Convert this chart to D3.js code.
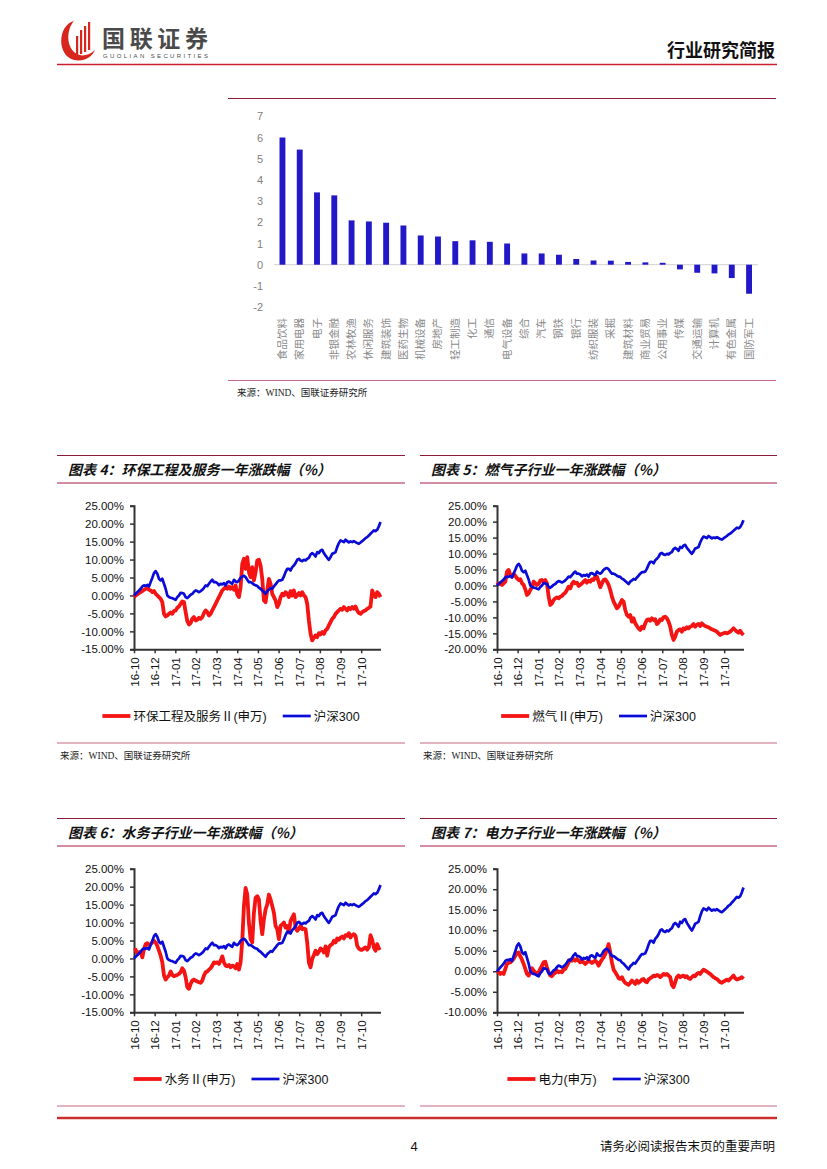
<!DOCTYPE html>
<html><head><meta charset="utf-8">
<script src="https://cdn.jsdelivr.net/npm/d3@7"></script>
<style>
body{margin:0;background:#fff;}
svg{display:block;}
</style></head><body>
<svg id="page" width="827" height="1169"></svg>
<script>
// ---------- DATA ----------
const industries = ["食品饮料","家用电器","电子","非银金融","农林牧渔","休闲服务","建筑装饰","医药生物","机械设备","房地产","轻工制造","化工","通信","电气设备","综合","汽车","钢铁","银行","纺织服装","采掘","建筑材料","商业贸易","公用事业","传媒","交通运输","计算机","有色金属","国防军工"];
const industryValues = [6.0,5.43,3.41,3.27,2.09,2.04,1.98,1.85,1.38,1.33,1.11,1.15,1.08,1.0,0.53,0.53,0.47,0.27,0.2,0.19,0.13,0.11,0.09,-0.22,-0.38,-0.41,-0.63,-1.37];
const barTicks = [-2,-1,0,1,2,3,4,5,6,7];

const dateLabels = ["16-10","16-12","17-01","17-02","17-03","17-04","17-05","17-06","17-07","17-08","17-09","17-10"];

const hs300 = [0,0.46,0.93,1.39,1.86,2.51,2.79,2.69,2.97,2.51,
3.71,4.92,6.22,6.78,6.04,4.64,4.18,4.64,3.25,1.86,
0,-0.46,-0.65,-0.74,-1.02,-1.21,-0.46,0,0.74,0.65,
0.46,-0.46,-0.74,-0.28,0.19,0.46,1.02,1.39,1.21,0.93,
1.21,1.58,2.14,2.79,2.6,3.25,3.9,4.36,3.71,3.71,
3.44,2.88,3.25,3.06,3.44,2.79,3.71,3.9,3.53,3.25,
4.36,3.9,3.71,4.18,4.92,5.29,5.48,5.11,4.36,3.71,
3.71,3.44,3.06,2.79,2.69,2.14,1.86,1.39,0.93,0.46,
1.21,1.58,2.04,1.86,2.51,3.06,3.71,4.18,4.18,4.36,
5.29,6.5,7.43,7.43,6.96,7.89,8.36,9.01,9.94,10.21,
9.75,9.56,9.94,9.75,10.21,10.49,11.42,11.79,11.42,10.86,
12.07,11.79,12.53,12.72,11.79,11.14,10.49,9.94,10.68,11.61,
11.79,12.07,13.46,14.58,15.32,15.13,14.86,15.51,15.13,14.76,
15.04,14.86,15.13,14.86,14.58,14.39,14.76,15.13,15.51,15.97,
16.25,16.71,17.18,17.64,18.11,17.92,18.29,19.22,20.43];

const envEng = [-0.46,0,0.28,0.65,0.93,1.21,1.58,1.86,2.14,1.58,
1.39,0.93,1.21,0.46,0,-0.46,-0.93,-1.86,-5.11,-5.85,
-5.57,-5.11,-4.74,-5.11,-4.36,-4.18,-3.44,-3.06,-2.32,-1.67,
-1.86,-4.64,-7.15,-8.08,-7.71,-6.5,-6.04,-6.96,-6.78,-6.22,
-6.5,-6.04,-4.92,-4.18,-4.64,-5.57,-5.11,-4.18,-3.25,-2.32,
-1.39,-0.46,0.46,1.39,1.86,2.32,1.86,2.51,1.86,2.32,
1.58,2.79,0.28,-0.46,2.32,8.82,10.21,7.43,10.68,6.5,
5.11,7.89,4.18,6.5,9.75,9.94,8.36,4.64,-1.39,-1.86,
1.39,4.64,3.25,0.46,-0.46,-1.39,-3.25,-2.32,-0.46,0.46,
0,0.93,0.46,-0.46,1.21,0,1.39,-0.46,0,0.65,
0,0.93,0,-0.46,-2.32,-6.96,-10.68,-12.53,-11.79,-11.14,
-11.61,-10.49,-10.86,-10.21,-10.68,-9.75,-9.29,-8.36,-7.43,-6.5,
-6.04,-5.11,-4.64,-4.18,-3.71,-3.99,-3.25,-3.71,-4.18,-3.44,
-3.81,-3.25,-3.71,-3.06,-4.18,-4.92,-5.11,-4.64,-4.36,-4.18,
-3.71,-3.44,-3.06,1.39,0,-0.46,0.93,0.46,-0.46];

const gas = [0.16,0.68,0.47,0.16,0.68,1.2,4.34,4.86,3.29,2.77,
3.61,2.98,2.25,1.72,1.93,0.68,0.16,-1.2,-2.98,-2.46,
-1.41,-0.57,1.2,0.68,0.16,0.47,1.52,1.72,1.2,1.72,
0.68,-3.5,-6.11,-5.59,-4.55,-4.02,-3.71,-4.02,-3.5,-3.29,
-2.66,-2.25,-1.41,-0.37,-0.89,0.47,1.2,0.68,0.89,-0.16,
0.16,0.68,1.2,1.72,0.89,1.52,1.2,1.93,1.72,2.77,
2.77,1.2,-0.57,0.68,1.72,1.93,1.2,0.16,-1.41,-3.5,
-5.07,-6.11,-7.16,-6.64,-5.59,-4.55,-5.07,-7.68,-9.25,-9.77,
-9.25,-11.34,-10.29,-11.86,-12.7,-13.43,-13.95,-12.91,-13.43,-11.86,
-10.82,-10.61,-11.02,-10.29,-10.82,-10.61,-12.07,-11.65,-10.61,-10.82,
-9.98,-9.77,-10.29,-11.34,-12.91,-15.52,-17.08,-16.04,-14.47,-13.95,
-13.74,-14.47,-13.43,-13.74,-13.11,-13.43,-12.91,-12.7,-12.07,-12.91,
-12.38,-12.07,-12.7,-11.86,-12.38,-12.7,-12.91,-13.11,-13.43,-13.74,
-13.95,-14.16,-14.47,-15.0,-15.52,-15.2,-15.0,-14.79,-15.0,-14.79,
-14.47,-13.95,-13.43,-13.95,-14.47,-14.79,-14.16,-15.0,-15.52];

const water = [2.15,2.42,1.23,1.69,1.87,0.3,2.61,3.99,4.27,3.71,
3.99,4.45,4.91,4.45,3.53,2.15,0.76,-1.08,-4.77,-5.87,
-5.23,-4.77,-3.66,-4.58,-4.95,-4.77,-4.58,-4.3,-3.84,-2.74,
-3.38,-5.23,-7.99,-8.45,-7.07,-6.15,-5.87,-6.15,-6.42,-6.61,
-6.79,-6.15,-4.77,-3.84,-3.66,-3.11,-2.74,-2.0,-1.08,-1.26,
-1.08,-1.54,-0.62,0.58,-1.08,-2.0,-2.18,-1.82,-2.46,-2.0,
-2.18,-2.74,-1.54,-3.11,-1.08,4.91,14.59,19.66,17.81,9.98,
5.37,4.45,12.75,16.89,17.35,16.43,10.44,6.76,10.9,13.67,
15.05,17.81,16.43,14.59,12.75,9.06,8.14,5.37,9.06,9.52,
9.98,8.6,9.06,7.22,10.44,11.36,12.29,8.6,7.68,8.32,
9.06,8.14,8.32,8.14,4.45,-1.08,-2.46,-0.16,0.95,2.15,
1.23,1.87,2.79,2.42,1.69,3.35,0.76,3.07,3.71,3.99,
4.91,4.45,5.56,5.19,5.83,6.11,5.56,6.48,6.29,7.03,
5.83,6.48,6.75,6.29,3.53,2.79,2.42,2.42,2.79,3.07,
2.42,3.07,6.48,5.19,3.07,2.15,3.99,2.79,3.07];

const power = [-0.08,-0.24,-0.65,-0.4,-0.65,0.56,1.78,2.02,2.18,2.58,
2.99,3.79,4.44,4.6,3.63,2.82,1.78,0.56,-0.65,-1.05,
-0.24,0.73,0.16,-0.24,-0.65,-0.24,0.56,1.37,2.18,2.34,
0.97,-0.24,-1.05,-1.21,-0.65,-0.4,0.16,-0.24,-0.08,-0.24,
0.4,0.56,1.37,2.18,2.82,2.58,2.99,2.58,2.99,2.58,
2.18,2.58,2.18,1.78,2.18,2.58,2.34,2.02,2.34,2.58,
2.18,1.37,2.18,2.82,3.39,4.2,5.25,6.62,4.6,2.18,
0.4,-0.24,-0.89,-1.69,-1.86,-1.45,-2.26,-2.82,-3.07,-3.31,
-2.82,-2.26,-2.66,-3.07,-2.26,-2.82,-2.5,-2.02,-1.86,-2.5,
-2.66,-2.02,-1.69,-1.45,-1.05,-1.21,-0.89,-1.05,-1.45,-1.05,
-0.65,-0.89,-0.65,-1.05,-1.45,-3.31,-3.87,-2.66,-1.45,-1.05,
-1.45,-1.21,-1.05,-1.45,-1.21,-1.69,-1.86,-1.45,-1.05,-1.21,
-0.65,-0.4,-0.65,-0.08,0.4,0.16,-0.08,-0.4,-0.65,-1.05,
-1.45,-1.69,-1.86,-2.26,-2.66,-2.82,-2.5,-2.26,-2.02,-2.26,
-1.86,-1.45,-1.05,-1.69,-2.02,-1.86,-1.69,-1.45,-1.86];

const yTicks4 = [25,20,15,10,5,0,-5,-10,-15];
const yTicks5 = [25,20,15,10,5,0,-5,-10,-15,-20];
const yTicks6 = [25,20,15,10,5,0,-5,-10,-15];
const yTicks7 = [25,20,15,10,5,0,-5,-10];

const titles = ["图表 4：环保工程及服务一年涨跌幅（%）","图表 5：燃气子行业一年涨跌幅（%）","图表 6：水务子行业一年涨跌幅（%）","图表 7：电力子行业一年涨跌幅（%）"];
const seriesNames = ["环保工程及服务Ⅱ(申万)","燃气Ⅱ(申万)","水务Ⅱ(申万)","电力(申万)"];
const benchName = "沪深300";
const sourceText = "来源：WIND、国联证券研究所";

// ---------- DRAW ----------
const svg = d3.select("#page");
const CJK = "'Noto Sans CJK SC', sans-serif";
const SANS = "'Liberation Sans', 'Noto Sans CJK SC', sans-serif";
const SERIF = "'Liberation Serif', 'Noto Sans CJK SC', serif";
const darkLine = "#8e1b36", pinkLine = "#c46a82";

// Header
const hdr = svg.append("g");
hdr.append("path").attr("d","M74,21 C58,25 56,55 74,60 C84,62 92,57 95,50 C90,55 82,57 77,54 C66,48 66,30 74,21 Z").attr("fill","#d7261e");
[[76,36,2.2,20],[80,30,2.2,24],[84,26,2.2,26],[88,22,2.2,28]].forEach(b=>{
  hdr.append("rect").attr("x",b[0]).attr("y",b[1]).attr("width",b[2]).attr("height",b[3]).attr("fill","#d7261e");
});
hdr.append("text").attr("x",102).attr("y",47).attr("font-family",CJK).attr("font-weight",700)
  .attr("font-size",23).attr("fill","#4a4a4a").attr("textLength",106).text("国联证券");
hdr.append("text").attr("x",103).attr("y",58).attr("font-family","'Liberation Sans',sans-serif")
  .attr("font-size",6).attr("fill","#4a4a4a").attr("textLength",105).text("GUOLIAN SECURITIES");
hdr.append("text").attr("x",775).attr("y",57).attr("text-anchor","end").attr("font-family",CJK)
  .attr("font-weight",700).attr("font-size",18).attr("fill","#111").text("行业研究简报");
hdr.append("line").attr("x1",57).attr("x2",777).attr("y1",64.5).attr("y2",64.5).attr("stroke","#c8202a").attr("stroke-width",1.5);

// ---------- Bar chart ----------
const bar = svg.append("g");
bar.append("line").attr("x1",228).attr("x2",776).attr("y1",98.5).attr("y2",98.5).attr("stroke",darkLine).attr("stroke-width",1.2);
const bx = d3.scaleBand().domain(industries).range([273.8,757.7]).paddingInner(0.66).paddingOuter(0.33);
const by = d3.scaleLinear().domain([-2,7]).range([307.1,116.3]);
bar.append("g").attr("transform","translate(263,0)")
  .call(d3.axisLeft(by).tickValues(barTicks).tickSize(0).tickPadding(0).tickFormat(d3.format("d")))
  .call(g=>g.select(".domain").remove())
  .call(g=>g.selectAll("text").attr("font-family",SANS).attr("font-size",11).attr("fill","#808080")
     .text(d=>d<0?"-"+Math.abs(d):d));
bar.append("line").attr("x1",273.8).attr("x2",757.7).attr("y1",by(0)).attr("y2",by(0)).attr("stroke","#d9d9d9").attr("stroke-width",1.2);
bar.selectAll("rect.b").data(industries).join("rect").attr("class","b")
  .attr("x",d=>bx(d)).attr("width",bx.bandwidth())
  .attr("y",(d,i)=>by(Math.max(0,industryValues[i])))
  .attr("height",(d,i)=>Math.abs(by(industryValues[i])-by(0)))
  .attr("fill","#2318c8");
bar.selectAll("text.cat").data(industries).join("text").attr("class","cat")
  .attr("transform",d=>`translate(${bx(d)+bx.bandwidth()/2+3.5},318) rotate(-90)`)
  .attr("text-anchor","end").attr("font-family",CJK).attr("font-size",10.5).attr("fill","#8a8a8a")
  .text(d=>d);
bar.append("line").attr("x1",228).attr("x2",776).attr("y1",380.5).attr("y2",380.5).attr("stroke",pinkLine).attr("stroke-width",1.2);
bar.append("text").attr("x",237).attr("y",396).attr("font-family",SERIF).attr("font-size",9.5).attr("fill","#222").text(sourceText);

// ---------- Line panels ----------
const panels = [
  {ox:57, oy:455, w:348, title:titles[0], name:seriesNames[0], data:envEng, ticks:yTicks4, source:true},
  {ox:420,oy:455, w:357, title:titles[1], name:seriesNames[1], data:gas,    ticks:yTicks5, source:true},
  {ox:57, oy:818, w:348, title:titles[2], name:seriesNames[2], data:water,  ticks:yTicks6, source:false},
  {ox:420,oy:818, w:357, title:titles[3], name:seriesNames[3], data:power,  ticks:yTicks7, source:false},
];
const tickEvery = 12.4; // sample points between date labels

panels.forEach(p=>{
  const g = svg.append("g");
  g.append("line").attr("x1",p.ox).attr("x2",p.ox+p.w).attr("y1",p.oy+0.5).attr("y2",p.oy+0.5).attr("stroke",darkLine).attr("stroke-width",1);
  g.append("text").attr("x",p.ox+11).attr("y",p.oy+20).attr("font-family",CJK).attr("font-weight",700)
    .attr("font-style","italic").attr("font-size",14).attr("fill","#111").text(p.title);
  g.append("line").attr("x1",p.ox).attr("x2",p.ox+p.w).attr("y1",p.oy+28).attr("y2",p.oy+28).attr("stroke",pinkLine).attr("stroke-width",1.5);

  const left = p.ox+77, right = p.ox+323.5, top = p.oy+50.7, bottom = p.oy+194.3;
  const n = p.data.length;
  const x = d3.scaleLinear().domain([0,n-1]).range([left,right]);
  const y = d3.scaleLinear().domain([d3.min(p.ticks), d3.max(p.ticks)]).range([bottom, top]);
  const fmt = d=> (d<0?"-":"")+Math.abs(d).toFixed(2)+"%";

  const ya = g.append("g").attr("transform",`translate(${left},0)`)
    .call(d3.axisLeft(y).tickValues(p.ticks).tickSize(4).tickPadding(6).tickFormat(fmt));
  ya.selectAll("text").attr("font-family",SANS).attr("font-size",11.5).attr("fill","#111");
  ya.selectAll("line").attr("stroke","#333").attr("stroke-width",1.5);
  ya.select(".domain").attr("stroke","#333").attr("stroke-width",2);

  const tickIdx = dateLabels.map((d,i)=>i*tickEvery);
  const xa = g.append("g").attr("transform",`translate(0,${bottom})`)
    .call(d3.axisBottom(x).tickValues(tickIdx).tickSize(4).tickSizeOuter(0).tickFormat((d,i)=>dateLabels[i]));
  xa.selectAll("line").attr("stroke","#333").attr("stroke-width",1.5);
  xa.select(".domain").attr("stroke","#333").attr("stroke-width",2);
  xa.selectAll("text").attr("font-family",SANS).attr("font-size",11.5).attr("fill","#111")
    .attr("text-anchor","end").attr("dy","0.35em").attr("transform","translate(0,8) rotate(-90)").attr("y",0).attr("x",0);

  const line = d3.line().x((d,i)=>x(i)).y(d=>y(d));
  g.append("path").datum(p.data).attr("d",line).attr("fill","none").attr("stroke","#f41414")
    .attr("stroke-width",3.8).attr("stroke-linejoin","round");
  g.append("path").datum(hs300).attr("d",line).attr("fill","none").attr("stroke","#0b0bd8")
    .attr("stroke-width",2.7).attr("stroke-linejoin","round");

  // legend
  const lg = g.append("g");
  const ly = p.oy+261;
  const t1 = lg.append("text").attr("font-family",SANS).attr("font-size",12.5).attr("fill","#111").attr("y",ly+4.5).text(p.name);
  const t2 = lg.append("text").attr("font-family",SANS).attr("font-size",12.5).attr("fill","#111").attr("y",ly+4.5).text(benchName);
  const w1 = t1.node().getComputedTextLength(), w2 = t2.node().getComputedTextLength();
  const sw = 28, gap = 3, sep = 16;
  const total = sw+gap+w1+sep+sw+gap+w2;
  let sx = p.ox + p.w/2 - total/2;
  lg.append("line").attr("x1",sx).attr("x2",sx+sw).attr("y1",ly).attr("y2",ly).attr("stroke","#f41414").attr("stroke-width",3.8);
  t1.attr("x",sx+sw+gap);
  sx += sw+gap+w1+sep;
  lg.append("line").attr("x1",sx).attr("x2",sx+sw).attr("y1",ly).attr("y2",ly).attr("stroke","#0b0bd8").attr("stroke-width",2.7);
  t2.attr("x",sx+sw+gap);

  g.append("line").attr("x1",p.ox).attr("x2",p.ox+p.w).attr("y1",p.oy+288).attr("y2",p.oy+288).attr("stroke",pinkLine).attr("stroke-width",1.2);
  if(p.source){
    g.append("text").attr("x",p.ox+3).attr("y",p.oy+304).attr("font-family",SERIF).attr("font-size",9.5).attr("fill","#222").text(sourceText);
  }
});

// Footer
svg.append("line").attr("x1",57).attr("x2",777).attr("y1",1118).attr("y2",1118).attr("stroke","#c9302c").attr("stroke-width",2.6);
svg.append("text").attr("x",414).attr("y",1151).attr("text-anchor","middle").attr("font-family",SANS).attr("font-size",13).attr("fill","#111").text("4");
svg.append("text").attr("x",775).attr("y",1151).attr("text-anchor","end").attr("font-family",CJK).attr("font-size",12.5).attr("fill","#111").text("请务必阅读报告末页的重要声明");
</script>
</body></html>
